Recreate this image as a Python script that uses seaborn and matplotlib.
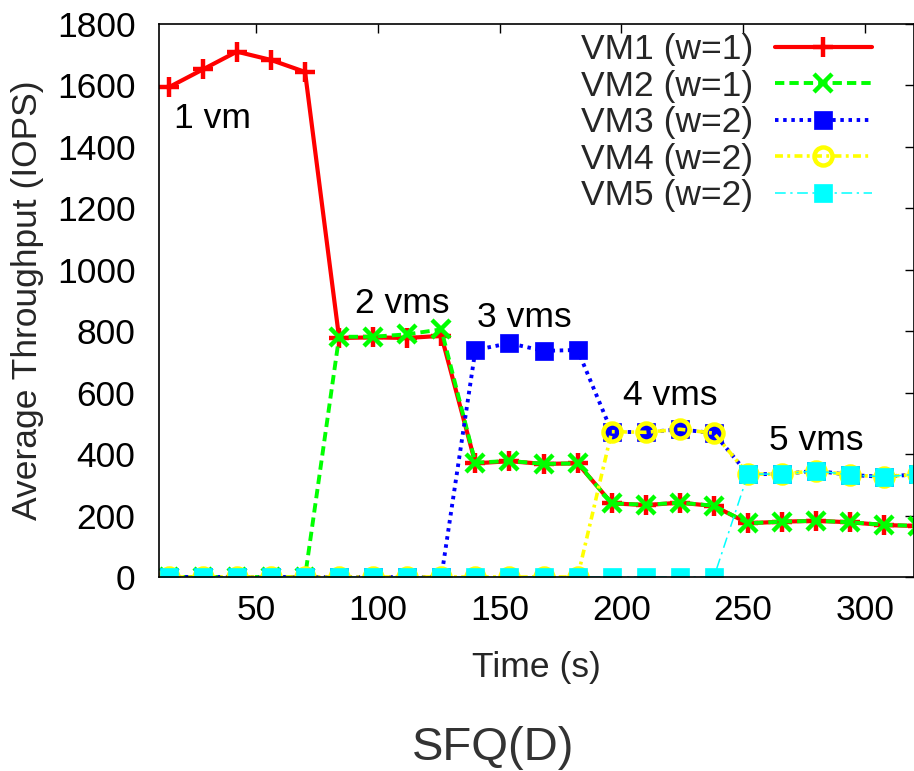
import matplotlib
matplotlib.use("Agg")
import matplotlib.pyplot as plt
import seaborn as sns
import pandas as pd

# ---------------- data ----------------
time_s = [14, 28, 42, 56, 70, 84, 98, 112, 126, 140, 154, 168, 182,
          196, 210, 224, 238, 252, 266, 280, 294, 308, 322]
vm1 = [1594, 1652, 1710, 1683, 1644, 778, 780, 778, 785, 370, 377, 368, 370,
       240, 234, 242, 231, 175, 180, 183, 178, 169, 166]
vm2 = [0, 0, 0, 0, 0, 782, 782, 790, 806, 372, 378, 368, 370,
       240, 235, 242, 232, 175, 180, 183, 178, 170, 166]
vm3 = [0, 0, 0, 0, 0, 0, 0, 0, 0, 739, 761, 736, 739,
       473, 471, 481, 468, 335, 335, 346, 332, 326, 335]
vm4 = [0, 0, 0, 0, 0, 0, 0, 0, 0, 0, 0, 0, 0,
       473, 471, 481, 468, 335, 335, 346, 332, 326, 335]
vm5 = [0, 0, 0, 0, 0, 0, 0, 0, 0, 0, 0, 0, 0,
       0, 0, 0, 0, 335, 335, 346, 332, 326, 335]
series_labels = ["VM1 (w=1)", "VM2 (w=1)", "VM3 (w=2)", "VM4 (w=2)", "VM5 (w=2)"]
x_ticks = [50, 100, 150, 200, 250, 300]
y_ticks = [0, 200, 400, 600, 800, 1000, 1200, 1400, 1600, 1800]
phase_labels = ["1 vm", "2 vms", "3 vms", "4 vms", "5 vms"]
phase_x = [16.3, 90.7, 140.5, 200.7, 260.8]
phase_y = [1460, 859, 815, 560, 413]

# ---------------- style ----------------
sns.set_style("white")
plt.rcParams['font.family'] = ['Liberation Sans', 'DejaVu Sans']
FS = 25.5

W, H = 914, 771
fig = plt.figure(figsize=(W / 100, H / 100), dpi=100)
ax = fig.add_axes([159 / W, (H - 577) / H, (913.5 - 159) / W, (577 - 24) / H])

styles = [
    dict(color="#ff0000", linestyle="-", linewidth=3.0, marker="+",
         markersize=15, markeredgewidth=3.2, markeredgecolor="#ff0000"),
    dict(color="#00ff00", linestyle=(0, (2.4, 1.3)), linewidth=2.8, marker="x",
         markersize=13, markeredgewidth=3.2, markeredgecolor="#00ff00"),
    dict(color="#0000ff", linestyle=(0, (0.9, 1.2)), linewidth=2.8, marker="s",
         markersize=13, markeredgewidth=0.5, markeredgecolor="#0000ff"),
    dict(color="#ffff00", linestyle=(0, (2.2, 1.2, 0.8, 1.2)), linewidth=2.6, marker="o",
         markersize=13, markeredgewidth=3.2, markeredgecolor="#ffff00",
         markerfacecolor="none"),
    dict(color="#00ffff", linestyle=(0, (7, 3, 1.5, 3)), linewidth=1.1, marker="s",
         markersize=13.5, markeredgewidth=0.5, markeredgecolor="#00ffff"),
]

all_series = [vm1, vm2, vm3, vm4, vm5]
for vals, lab, st in zip(all_series, series_labels, styles):
    df = pd.DataFrame({"Time": time_s, "IOPS": vals})
    sns.lineplot(data=df, x="Time", y="IOPS", ax=ax, label=lab,
                 errorbar=None, sort=False, **st)

ax.set_xlim(10, 320)
ax.set_ylim(0, 1800)
ax.set_xticks(x_ticks)
ax.set_yticks(y_ticks)
ax.tick_params(direction="in", length=6.5, width=1.0, top=True, right=True,
               labelsize=FS, colors="black")
ax.tick_params(axis="x", pad=12)
ax.tick_params(axis="y", pad=17)
for sp in ax.spines.values():
    sp.set_color("black")
    sp.set_linewidth(1.2)

ax.set_xlabel("Time (s)", fontsize=FS, va="center")
ax.xaxis.set_label_coords(0.5, (577 - 668) / 553)
ax.set_ylabel("Average Throughput (IOPS)", fontsize=FS, va="center")
ax.yaxis.set_label_coords((28 - 159) / 754.5, 0.5)

for t, px, py in zip(phase_labels, phase_x, phase_y):
    ax.text(px, py, t, fontsize=FS, va="baseline", ha="left", color="black")

leg = ax.legend(loc="upper right", bbox_to_anchor=(872 / W, (H - 33) / H),
                bbox_transform=fig.transFigure, frameon=False, fontsize=FS,
                markerfirst=False, numpoints=1, handlelength=2.75,
                handletextpad=0.6, labelspacing=0.1, borderpad=0,
                borderaxespad=0)

fig.text(493.5 / W, (H - 760) / H, "SFQ(D)", fontsize=34, color="#333333",
         ha="center", va="baseline")

fig.savefig("out.png", dpi=100)
